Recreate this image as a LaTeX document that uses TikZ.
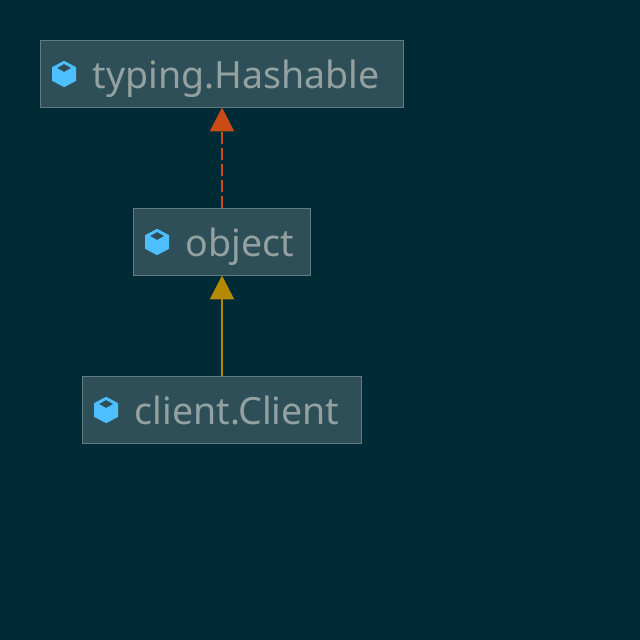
\documentclass[tikz,border=0pt]{standalone}
\usepackage{fontspec}
\setmainfont{Noto Sans}
\usetikzlibrary{positioning,arrows.meta}
\definecolor{pagebg}{HTML}{002B36}
\definecolor{boxfill}{HTML}{2F4F58}
\definecolor{boxline}{HTML}{657B83}
\definecolor{labeltext}{HTML}{93A1A1}
\definecolor{iconblue}{HTML}{4DBFFF}
\definecolor{realizes}{HTML}{CB4B16}
\definecolor{inherits}{HTML}{B58900}
\tikzset{
	classbox/.style={draw=boxline, fill=boxfill, line width=0.025cm, rectangle, minimum height=1.675cm, outer sep=0pt, inner sep=0pt},
	classlabel/.style={text=labeltext, anchor=base west, inner sep=0pt, font=\fontsize{26.7}{31}\selectfont},
	classicon/.pic={
		\fill[iconblue, even odd rule] (0,0.33) -- (0.3,0.17) -- (0.3,-0.17) -- (0,-0.33) -- (-0.3,-0.17) -- (-0.3,0.17) -- cycle
			(0,0.25) -- (0.18,0.15) -- (0,0.05) -- (-0.18,0.15) -- cycle;
	}
}
\begin{document}
\begin{tikzpicture}
		\fill[pagebg] (0,0) rectangle (16,16);

		% Nodes
		\node[classbox, minimum width=9.075cm] (hashable) at (5.55,14.15) {};
		\node[classbox, minimum width=4.425cm, below=2.525cm of hashable] (object) {};
		\node[classbox, minimum width=6.975cm, below=2.525cm of object] (client) {};

		% Labels
		\node[classlabel] (hashablelabel) at ([xshift=1.3cm,yshift=-0.37cm]hashable.west) {typing.Hashable};
		\node[classlabel] (objectlabel) at ([xshift=1.3cm,yshift=-0.37cm]object.west) {object};
		\node[classlabel] (clientlabel) at ([xshift=1.3cm,yshift=-0.37cm]client.west) {client.Client};

		% Icons
		\pic at ([xshift=0.59cm]hashable.west) {classicon};
		\pic at ([xshift=0.59cm]object.west) {classicon};
		\pic at ([xshift=0.59cm]client.west) {classicon};

		% Arrows
		\draw[-{Triangle[width=0.6cm,length=0.6cm]}, line width=0.065cm, realizes, dash pattern=on 0.3cm off 0.1cm] (object.north) -- (hashable.south);
		\draw[-{Triangle[width=0.6cm,length=0.6cm]}, line width=0.065cm, inherits] (client.north) -- (object.south);
	\end{tikzpicture}
\end{document}
